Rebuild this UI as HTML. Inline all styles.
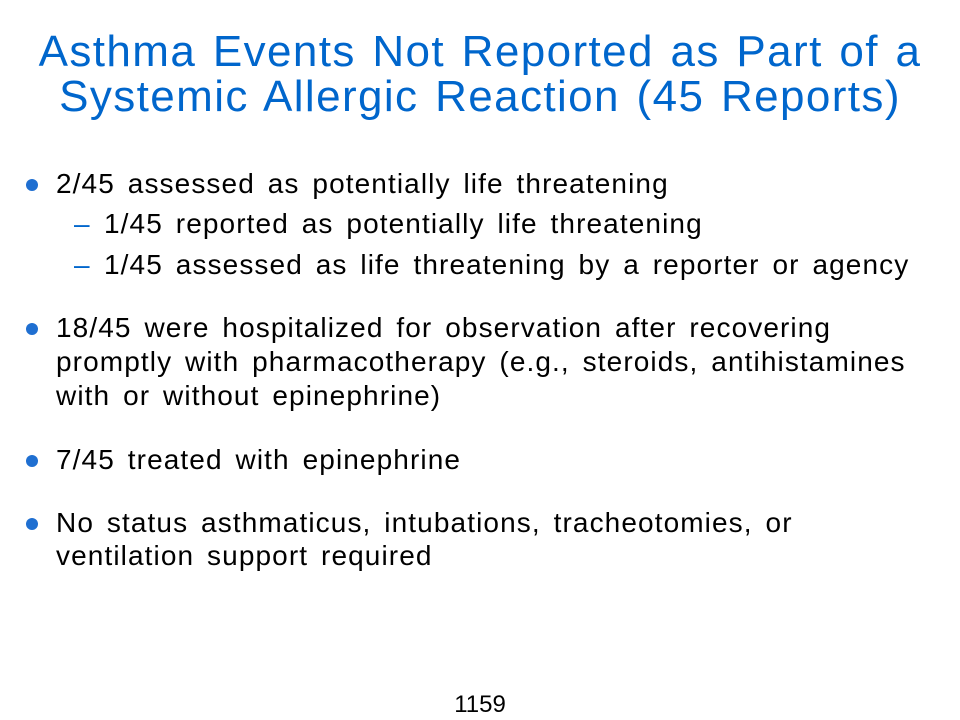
<!DOCTYPE html>
<html>
<head>
<meta charset="utf-8">
<style>
  html,body{margin:0;padding:0;background:#fff;}
  body{width:960px;height:720px;position:relative;overflow:hidden;font-family:"Liberation Sans",Arial,sans-serif;}
  .title{position:absolute;left:0;width:960px;text-align:center;color:#0066CC;font-size:44px;line-height:46px;white-space:nowrap;letter-spacing:1.4px;word-spacing:3px;}
  .t{position:absolute;font-size:28px;line-height:34px;color:#000;white-space:nowrap;letter-spacing:1.1px;word-spacing:4px;}
  .dot{position:absolute;width:12px;height:12px;border-radius:50%;background:#1F6FD1;}
  .dash{position:absolute;font-size:28px;line-height:34px;color:#0066CC;}
  .num{position:absolute;left:0;width:960px;text-align:center;font-size:24px;line-height:30px;color:#000;}
</style>
</head>
<body>
<div>
  <div class="title" style="top:29px">Asthma Events Not Reported as Part of a</div>
  <div class="title" style="top:74px">Systemic Allergic Reaction (45 Reports)</div>
</div>

<div>
  <div class="dot" style="left:26px;top:179px"></div>
  <div class="t" style="left:56px;top:167px">2/45 assessed as potentially life threatening</div>
</div>
<div>
  <div class="dash" style="left:74px;top:207px">–</div>
  <div class="t" style="left:104px;top:207px">1/45 reported as potentially life threatening</div>
</div>
<div>
  <div class="dash" style="left:74px;top:248px">–</div>
  <div class="t" style="left:104px;top:248px">1/45 assessed as life threatening by a reporter or agency</div>
</div>

<div>
  <div class="dot" style="left:26px;top:323px"></div>
  <div class="t" style="left:56px;top:311px">18/45 were hospitalized for observation after recovering</div>
  <div class="t" style="left:56px;top:345px">promptly with pharmacotherapy (e.g., steroids, antihistamines</div>
  <div class="t" style="left:56px;top:379px">with or without epinephrine)</div>
</div>

<div>
  <div class="dot" style="left:26px;top:455px"></div>
  <div class="t" style="left:56px;top:443px">7/45 treated with epinephrine</div>
</div>

<div>
  <div class="dot" style="left:26px;top:518px"></div>
  <div class="t" style="left:56px;top:506px">No status asthmaticus, intubations, tracheotomies, or</div>
  <div class="t" style="left:56px;top:539px">ventilation support required</div>
</div>

<div class="num" style="top:690px">1159</div>
</body>
</html>
